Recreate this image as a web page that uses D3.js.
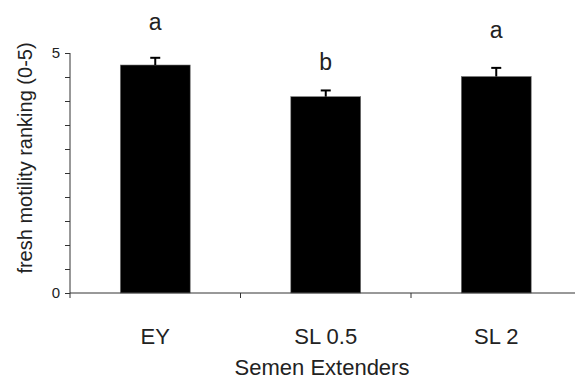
<!DOCTYPE html>
<html>
<head>
<meta charset="utf-8">
<script src="https://cdn.jsdelivr.net/npm/d3@7"></script>
<style>
    body { margin: 0; background: #fff; }
    text { font-family: "Liberation Sans", Arial, sans-serif; fill: #222; }
</style>
</head>
<body>
<div id="chart"></div>
<script>
// data
var extenders = ["EY", "SL 0.5", "SL 2"];
var motility = [4.75, 4.09, 4.51];
var errors = [0.15, 0.13, 0.18];
var letters = ["a", "b", "a"];
var yTickLabels = [0, 5];

var width = 575;
var height = 380;

var svg = d3.select("#chart")
    .append("svg")
    .attr("width", width)
    .attr("height", height);

var marginLeft = 70, plotTop = 53, plotBottom = 293;

// x scale: three bands of ~171px, bars 70px wide
var x = d3.scaleBand()
    .domain(extenders)
    .range([marginLeft, marginLeft + 3 * 170.5])
    .paddingInner(0.59)
    .paddingOuter(0.295);

var y = d3.scaleLinear()
    .domain([0, 5])
    .range([plotBottom, plotTop]);

// bars
svg.selectAll(".bar")
    .data(extenders)
    .enter().append("rect")
    .attr("class", "bar")
    .attr("x", d => x(d))
    .attr("width", x.bandwidth())
    .attr("y", (d, i) => y(motility[i]))
    .attr("height", (d, i) => y(0) - y(motility[i]))
    .attr("fill", "#000")
    .attr("stroke", "#777")
    .attr("stroke-width", 0.6);

// error bars
var err = svg.selectAll(".err")
    .data(extenders)
    .enter().append("g")
    .attr("class", "err");

err.append("line")
    .attr("x1", d => x(d) + x.bandwidth() / 2)
    .attr("x2", d => x(d) + x.bandwidth() / 2)
    .attr("y1", (d, i) => y(motility[i]))
    .attr("y2", (d, i) => y(motility[i] + errors[i]))
    .attr("stroke", "#000")
    .attr("stroke-width", 2);

err.append("line")
    .attr("x1", d => x(d) + x.bandwidth() / 2 - 5)
    .attr("x2", d => x(d) + x.bandwidth() / 2 + 5)
    .attr("y1", (d, i) => y(motility[i] + errors[i]))
    .attr("y2", (d, i) => y(motility[i] + errors[i]))
    .attr("stroke", "#000")
    .attr("stroke-width", 2);

// significance letters
var letterOffset = [28, 20, 30];
svg.selectAll(".letter")
    .data(extenders)
    .enter().append("text")
    .attr("class", "letter")
    .attr("x", d => x(d) + x.bandwidth() / 2)
    .attr("y", (d, i) => y(motility[i] + errors[i]) - letterOffset[i])
    .attr("text-anchor", "middle")
    .style("font-size", "23px")
    .text((d, i) => letters[i]);

// y axis
var yAxis = svg.append("g")
    .attr("transform", "translate(" + marginLeft + ",0)")
    .call(d3.axisLeft(y)
        .tickValues(d3.range(0, 5.01, 0.5))
        .tickSize(5)
        .tickFormat(d => yTickLabels.includes(d) ? d : ""));
yAxis.select(".domain").attr("stroke", "#333").attr("d", "M0," + plotTop + "V" + (plotBottom + 5));
yAxis.selectAll("line").attr("stroke", "#333");
yAxis.selectAll("text")
    .style("font-size", "15px")
    .style("font-family", "Liberation Sans, Arial, sans-serif")
    .attr("fill", "#222")
    .attr("x", -10);

// x axis
var xAxis = svg.append("g")
    .attr("transform", "translate(0," + plotBottom + ")");
xAxis.append("line")
    .attr("x1", marginLeft).attr("x2", width)
    .attr("stroke", "#333");
xAxis.selectAll(".xtick")
    .data(extenders.slice(1))
    .enter().append("line")
    .attr("class", "xtick")
    .attr("x1", d => x(d) - x.step() * x.paddingInner() / 2)
    .attr("x2", d => x(d) - x.step() * x.paddingInner() / 2)
    .attr("y1", 0).attr("y2", 5)
    .attr("stroke", "#333");
xAxis.selectAll(".xlabel")
    .data(extenders)
    .enter().append("text")
    .attr("class", "xlabel")
    .attr("x", d => x(d) + x.bandwidth() / 2)
    .attr("y", 51)
    .attr("text-anchor", "middle")
    .style("font-size", "22px")
    .text(d => d);

// axis titles
svg.append("text")
    .attr("x", 322)
    .attr("y", 375)
    .attr("text-anchor", "middle")
    .style("font-size", "22px")
    .text("Semen Extenders");

svg.append("text")
    .attr("transform", "translate(32,158) rotate(-90)")
    .attr("text-anchor", "middle")
    .style("font-size", "20px")
    .text("fresh motility ranking (0-5)");
</script>
</body>
</html>
